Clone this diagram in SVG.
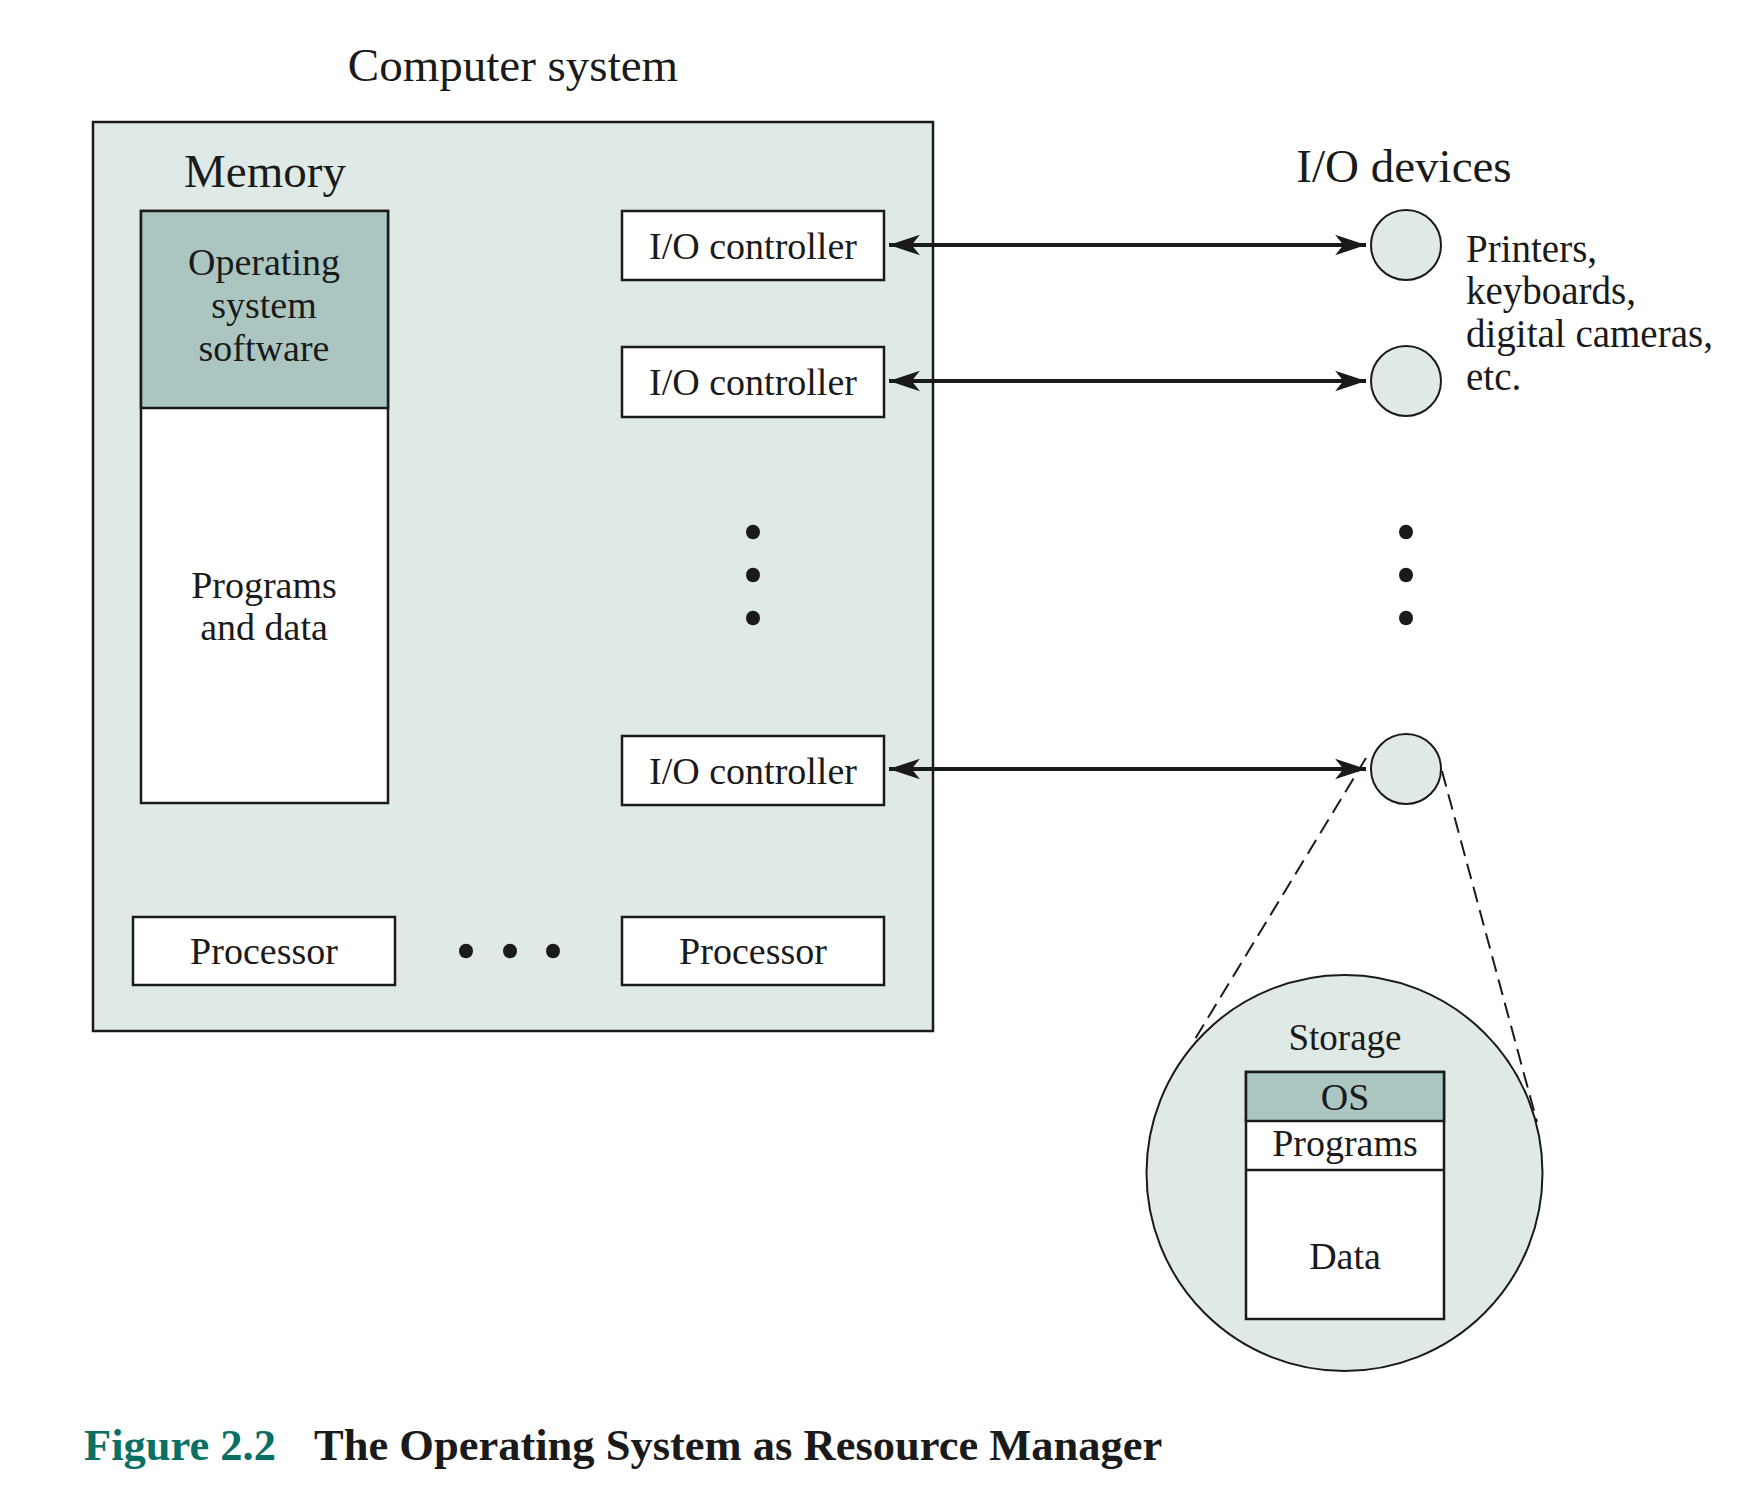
<svg xmlns="http://www.w3.org/2000/svg" width="1742" height="1510" viewBox="0 0 1742 1510">
<style>
  .t { font-family: "Liberation Serif", "Times New Roman", serif; fill: #1a1a1a; }
  .h { font-size: 47px; }
  .l { font-size: 38px; }
  .box { fill: #ffffff; stroke: #1a1a1a; stroke-width: 2.5; }
  .dark { fill: #abc6c1; stroke: #1a1a1a; stroke-width: 2.5; }
  .light { fill: #dfe9e6; stroke: #1a1a1a; stroke-width: 2.5; }
  .dev { fill: #dfe9e6; stroke: #1a1a1a; stroke-width: 2; }
  .conn { stroke: #1a1a1a; stroke-width: 4; fill: none; }
  .dash { stroke: #1a1a1a; stroke-width: 2; fill: none; stroke-dasharray: 16 8; }
  .dot { fill: #1a1a1a; }
  .cap { font-family: "Liberation Serif", "Times New Roman", serif; font-weight: bold; font-size: 44.5px; }
</style>
<defs>
  <marker id="arr" markerUnits="userSpaceOnUse" markerWidth="34" markerHeight="24" viewBox="-31 -11 33 22" refX="0" refY="0" orient="auto-start-reverse">
    <path d="M0,0 L-30,-10 L-22,0 L-30,10 Z" fill="#1a1a1a"/>
  </marker>
</defs>
<rect width="1742" height="1510" fill="#ffffff"/>

<text class="t h" x="513" y="81" text-anchor="middle" font-size="48">Computer system</text>

<g id="computer-system">
  <rect class="light" x="93" y="122" width="840" height="909"/>
</g>

<g id="memory">
  <text class="t h" x="265" y="187" text-anchor="middle" font-size="48">Memory</text>
  <rect class="box" x="141" y="211" width="247" height="592"/>
  <rect class="dark" x="141" y="211" width="247" height="197"/>
  <text class="t l" x="264" y="275" text-anchor="middle">Operating</text>
  <text class="t l" x="264" y="318" text-anchor="middle">system</text>
  <text class="t l" x="264" y="361" text-anchor="middle">software</text>
  <text class="t l" x="264" y="598" text-anchor="middle">Programs</text>
  <text class="t l" x="264" y="640" text-anchor="middle">and data</text>
</g>

<g id="io-controller-1">
  <rect class="box" x="622" y="211" width="262" height="69"/>
  <text class="t l" x="753" y="259" text-anchor="middle">I/O controller</text>
</g>
<g id="io-controller-2">
  <rect class="box" x="622" y="347" width="262" height="70"/>
  <text class="t l" x="753" y="395" text-anchor="middle">I/O controller</text>
</g>
<g id="io-controller-3">
  <rect class="box" x="622" y="736" width="262" height="69"/>
  <text class="t l" x="753" y="784" text-anchor="middle">I/O controller</text>
</g>

<g id="controller-dots">
  <ellipse class="dot" cx="753" cy="532" rx="7" ry="7.3"/>
  <ellipse class="dot" cx="753" cy="575" rx="7" ry="7.3"/>
  <ellipse class="dot" cx="753" cy="618" rx="7" ry="7.3"/>
</g>

<g id="processor-1">
  <rect class="box" x="133" y="917" width="262" height="68"/>
  <text class="t l" x="264" y="964" text-anchor="middle">Processor</text>
</g>
<g id="processor-dots">
  <ellipse class="dot" cx="466" cy="951" rx="7" ry="7.3"/>
  <ellipse class="dot" cx="510" cy="951" rx="7" ry="7.3"/>
  <ellipse class="dot" cx="553" cy="951" rx="7" ry="7.3"/>
</g>
<g id="processor-2">
  <rect class="box" x="622" y="917" width="262" height="68"/>
  <text class="t l" x="753" y="964" text-anchor="middle">Processor</text>
</g>

<g id="io-devices">
  <text class="t h" x="1404" y="182" text-anchor="middle">I/O devices</text>
  <circle class="dev" cx="1406" cy="245" r="35"/>
  <circle class="dev" cx="1406" cy="381" r="35"/>
  <circle class="dev" cx="1406" cy="769" r="35"/>
  <ellipse class="dot" cx="1406" cy="532" rx="7" ry="7.3"/>
  <ellipse class="dot" cx="1406" cy="575" rx="7" ry="7.3"/>
  <ellipse class="dot" cx="1406" cy="618" rx="7" ry="7.3"/>
  <text class="t" font-size="39" x="1466" y="262">Printers,</text>
  <text class="t" font-size="39" x="1466" y="304">keyboards,</text>
  <text class="t" font-size="39" x="1466" y="347">digital cameras,</text>
  <text class="t" font-size="39" x="1466" y="390">etc.</text>
</g>

<g id="connectors">
  <line class="conn" x1="889" y1="245" x2="1366" y2="245" marker-start="url(#arr)" marker-end="url(#arr)"/>
  <line class="conn" x1="889" y1="381" x2="1366" y2="381" marker-start="url(#arr)" marker-end="url(#arr)"/>
  <line class="conn" x1="889" y1="769" x2="1366" y2="769" marker-start="url(#arr)" marker-end="url(#arr)"/>
  <line class="dash" x1="1366" y1="758" x2="1192" y2="1044"/>
  <line class="dash" x1="1442" y1="771" x2="1537" y2="1122"/>
</g>

<g id="storage">
  <circle class="dev" cx="1344.5" cy="1173" r="198"/>
  <text class="t" font-size="37" x="1345" y="1050" text-anchor="middle">Storage</text>
  <rect class="box" x="1246" y="1072" width="198" height="247"/>
  <rect class="dark" x="1246" y="1072" width="198" height="49"/>
  <line stroke="#1a1a1a" stroke-width="2.5" x1="1246" y1="1170" x2="1444" y2="1170"/>
  <text class="t l" x="1345" y="1110" text-anchor="middle">OS</text>
  <text class="t l" x="1345" y="1156" text-anchor="middle">Programs</text>
  <text class="t l" x="1345" y="1269" text-anchor="middle">Data</text>
</g>

<g id="caption">
  <text class="cap" x="84" y="1460" fill="#0a7066">Figure 2.2</text>
  <text class="cap" x="314" y="1460" fill="#1a1a1a">The Operating System as Resource Manager</text>
</g>
</svg>
